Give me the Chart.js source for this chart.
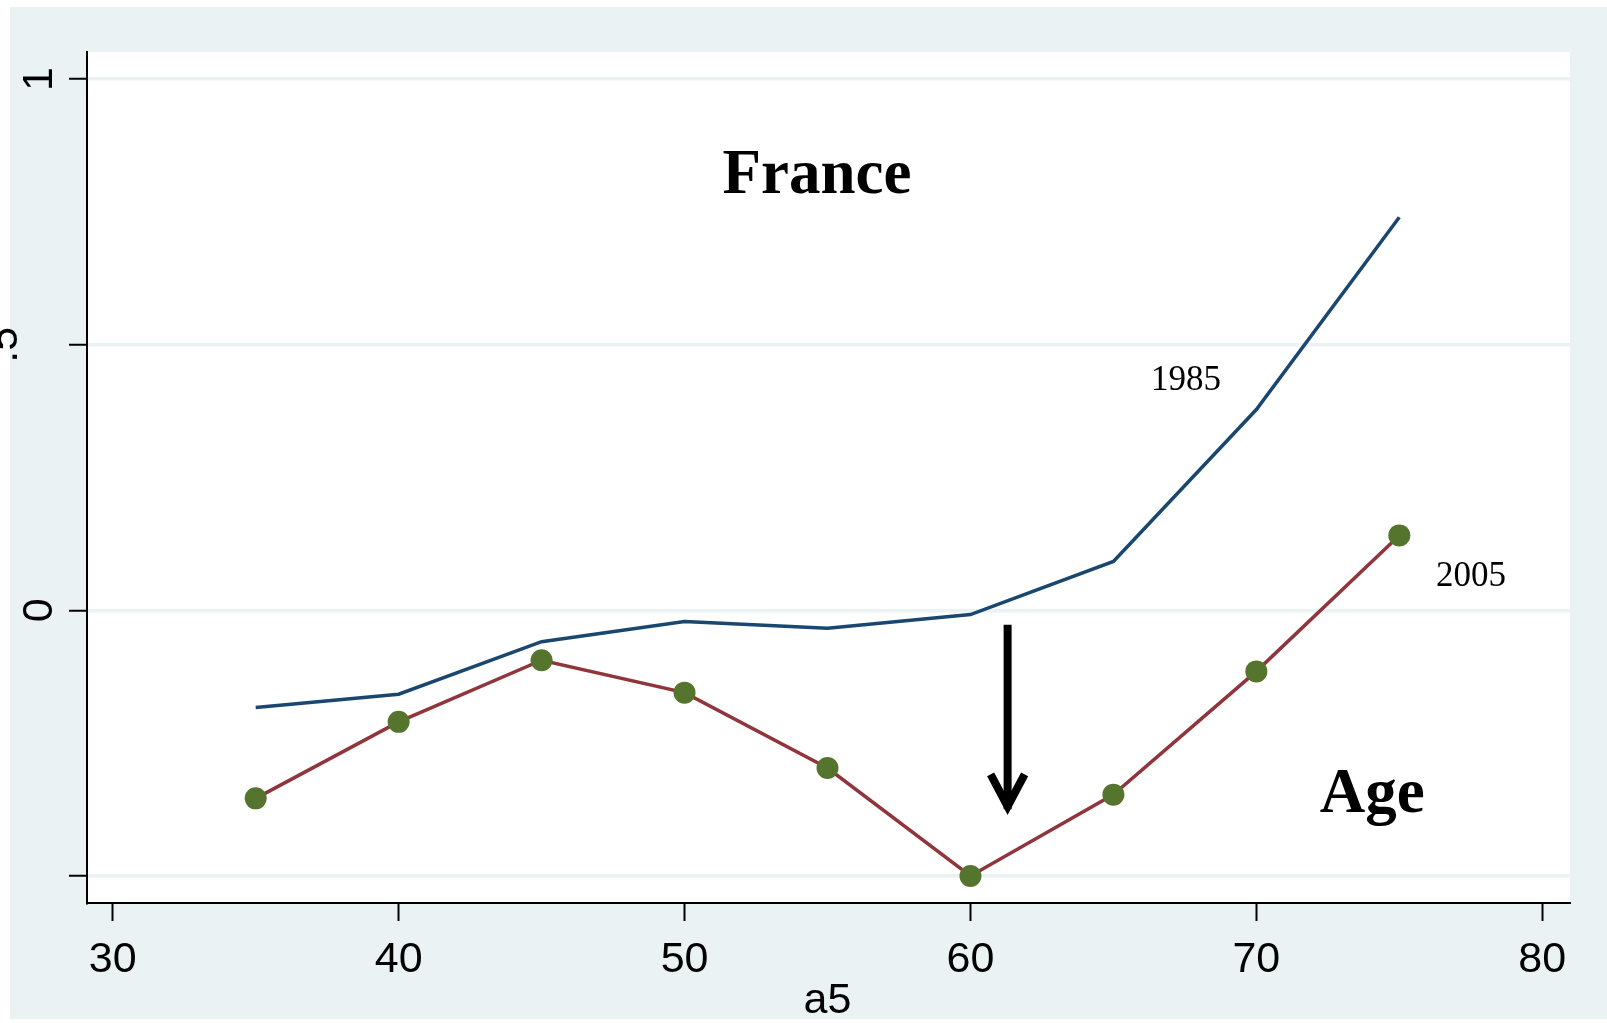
<!DOCTYPE html>
<html lang="en">
<head>
    <meta charset="UTF-8">
    <title>France - a5</title>
    <style>
        html, body { margin: 0; padding: 0; background: #ffffff; }
        canvas { display: block; }
    </style>
</head>
<body>
    <canvas id="myChart" width="1607" height="1023"></canvas>

    <script src="https://cdn.jsdelivr.net/npm/chart.js"></script>

    <script>
        // values
        const ages = [35, 40, 45, 50, 55, 60, 65, 70, 75];
        const y1985 = [-0.183, -0.158, -0.059, -0.021, -0.034, -0.008, 0.092, 0.378, 0.740];
        const y2005 = [-0.354, -0.210, -0.094, -0.155, -0.297, -0.500, -0.347, -0.115, 0.141];

        const xTicks = [30, 40, 50, 60, 70, 80];
        const xTickLabels = ['30', '40', '50', '60', '70', '80'];
        const yTicks = [-0.5, 0, 0.5, 1];
        const yTickLabels = ['', '0', '.5', '1']; // -.5 label is not visible in the original
        const xTitle = 'a5';

        // text notes placed in data units
        const notes = [
            { text: 'France', x: 54.63, y: 0.786, big: true },
            { text: 'Age', x: 74.05, y: -0.380, big: true },
            { text: '1985', x: 67.54, y: 0.415, big: false },
            { text: '2005', x: 77.51, y: 0.045, big: false }
        ];
        const arrowX = 61.3;
        const arrowFrom = -0.027;
        const arrowTo = -0.386;

        const bgBlue = '#eaf2f3';

        const stataLook = {
            id: 'stataLook',
            beforeDraw(chart) {
                const c = chart.ctx;
                const a = chart.chartArea;
                c.save();
                c.fillStyle = '#ffffff';
                c.fillRect(0, 0, chart.width, chart.height);
                c.fillStyle = bgBlue;
                c.fillRect(10, 7, chart.width - 10, chart.height - 11);
                c.fillStyle = '#ffffff';
                c.fillRect(a.left, a.top, a.right - a.left, a.bottom - a.top);
                c.restore();
            },
            afterDraw(chart) {
                const c = chart.ctx;
                const xs = chart.scales.x;
                const ys = chart.scales.y;
                c.save();
                c.fillStyle = '#000000';

                // x tick labels and title
                c.font = '43px "Liberation Sans", Arial, sans-serif';
                c.textAlign = 'center';
                c.textBaseline = 'alphabetic';
                xTicks.forEach((v, i) => {
                    c.fillText(xTickLabels[i], xs.getPixelForValue(v), 972);
                });
                c.fillText(xTitle, xs.getPixelForValue(55), 1013);

                // y tick labels, rotated
                yTicks.forEach((v, i) => {
                    const lab = yTickLabels[i];
                    if (!lab) return;
                    const bx = lab.startsWith('.') ? 17 : 52;
                    c.save();
                    c.translate(bx, ys.getPixelForValue(v));
                    c.rotate(-Math.PI / 2);
                    c.fillText(lab, 0, 0);
                    c.restore();
                });

                // notes
                notes.forEach(n => {
                    c.font = n.big
                        ? 'bold 63px "Liberation Serif", "Times New Roman", serif'
                        : '35px "Liberation Serif", "Times New Roman", serif';
                    c.fillText(n.text, xs.getPixelForValue(n.x), ys.getPixelForValue(n.y));
                });

                // arrow
                const ax = xs.getPixelForValue(arrowX);
                const y0 = ys.getPixelForValue(arrowFrom);
                const y1 = ys.getPixelForValue(arrowTo);
                c.strokeStyle = '#000000';
                c.lineWidth = 8;
                c.lineCap = 'butt';
                c.lineJoin = 'miter';
                c.beginPath();
                c.moveTo(ax, y0);
                c.lineTo(ax, y1 - 6);
                c.stroke();
                c.beginPath();
                c.moveTo(ax - 17, y1 - 41);
                c.lineTo(ax, y1 - 9);
                c.lineTo(ax + 17, y1 - 41);
                c.stroke();
                c.restore();
            }
        };

        new Chart(document.getElementById('myChart'), {
            type: 'scatter',
            data: {
                datasets: [{
                    label: '1985',
                    data: ages.map((a, i) => ({ x: a, y: y1985[i] })),
                    showLine: true,
                    borderColor: '#1a476f',
                    borderWidth: 3.5,
                    pointRadius: 0,
                    fill: false
                }, {
                    label: '2005',
                    data: ages.map((a, i) => ({ x: a, y: y2005[i] })),
                    showLine: true,
                    borderColor: '#90353b',
                    borderWidth: 3.5,
                    pointRadius: 11,
                    pointBackgroundColor: '#55752f',
                    pointBorderColor: '#55752f',
                    pointBorderWidth: 0,
                    fill: false
                }]
            },
            options: {
                responsive: false,
                animation: false,
                events: [],
                layout: { padding: { top: 52, right: 37, left: 0, bottom: 0 } },
                plugins: {
                    legend: { display: false },
                    tooltip: { enabled: false }
                },
                scales: {
                    x: {
                        type: 'linear',
                        min: 29.1,
                        max: 80.97,
                        afterBuildTicks: s => { s.ticks = xTicks.map(v => ({ value: v })); },
                        afterFit: s => { s.height = 120; },
                        ticks: { display: false },
                        grid: {
                            drawOnChartArea: false,
                            tickLength: 18,
                            tickColor: '#000000',
                            tickWidth: 2
                        },
                        border: { color: '#000000', width: 2 }
                    },
                    y: {
                        type: 'linear',
                        min: -0.551,
                        max: 1.051,
                        afterBuildTicks: s => { s.ticks = yTicks.map(v => ({ value: v })); },
                        afterFit: s => { s.width = 87; },
                        ticks: { display: false },
                        grid: {
                            color: bgBlue,
                            lineWidth: 3.5,
                            tickLength: 18,
                            tickColor: '#000000',
                            tickWidth: 2
                        },
                        border: { color: '#000000', width: 2 }
                    }
                }
            },
            plugins: [stataLook]
        });
    </script>
</body>
</html>
